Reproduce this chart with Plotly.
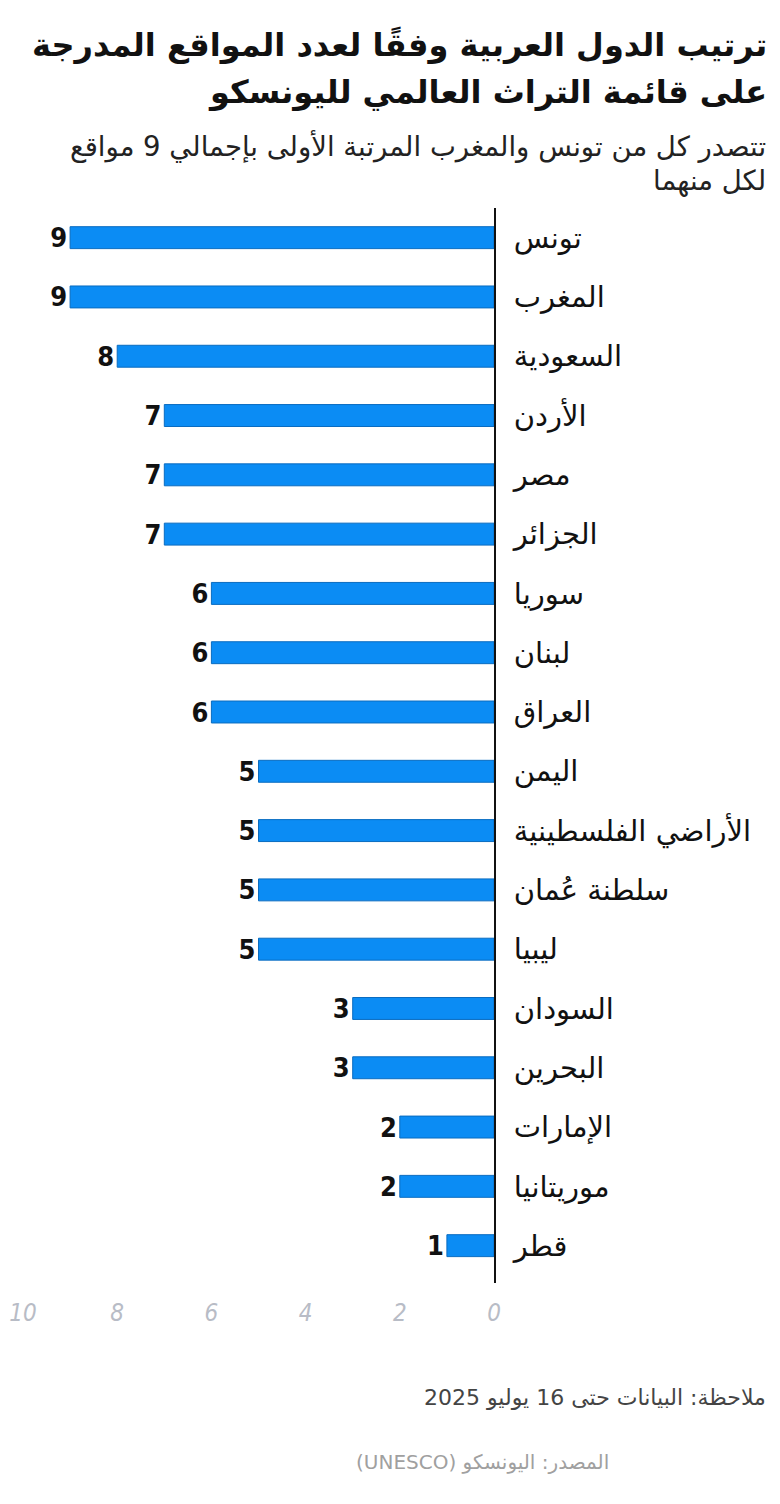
import plotly.graph_objects as go

countries = ["تونس", "المغرب", "السعودية", "الأردن", "مصر", "الجزائر", "سوريا", "لبنان",
             "العراق", "اليمن", "الأراضي الفلسطينية", "سلطنة عُمان", "ليبيا", "السودان",
             "البحرين", "الإمارات", "موريتانيا", "قطر"]
sites = [9, 9, 8, 7, 7, 7, 6, 6, 6, 5, 5, 5, 5, 3, 3, 2, 2, 1]
x_ticks = [0, 2, 4, 6, 8, 10]

title_lines = ["ترتيب الدول العربية وفقًا لعدد المواقع المدرجة", "على قائمة التراث العالمي لليونسكو"]
subtitle_lines = ["تتصدر كل من تونس والمغرب المرتبة الأولى بإجمالي 9 مواقع", "لكل منهما"]
note = "ملاحظة: البيانات حتى 16 يوليو 2025"
source = "المصدر: اليونسكو (UNESCO)"

OFF = 8  # page body offset
W, H = 780 - OFF, 1504 - OFF
L, R, T = 23 - OFF, 780 - 494, 208 - OFF
B = H - (1283 - OFF)
pw = W - L - R
ph = H - T - B

def px(x):
    return (x - OFF - L) / pw

def py(y):
    return (H - B - (y - OFF)) / ph

def rtl(s):
    return "\u202b" + s + "\u202c"

AR = "DejaVu Sans, Noto Sans Arabic, sans-serif"
NUM = "DejaVu Sans Condensed, Roboto, sans-serif"

fig = go.Figure(go.Bar(
    x=sites, y=countries, orientation="h",
    marker=dict(color="#0b8cf4", line=dict(color="#0a6cc0", width=1)),
    width=0.37,
    text=[str(v) for v in sites], textposition="outside", constraintext="none",
    textfont=dict(family=NUM, size=27, color="#111", weight="bold"),
    cliponaxis=False, hoverinfo="skip",
))

annotations = []
for i, line in enumerate(title_lines):
    annotations.append(dict(text=rtl(line), x=px(769), y=py(45 + 47 * i), xref="paper", yref="paper",
                            xanchor="right", yanchor="middle", showarrow=False,
                            font=dict(family=AR, size=32, color="#111", weight="bold")))
for i, line in enumerate(subtitle_lines):
    annotations.append(dict(text=rtl(line), x=px(768), y=py(146 + 34 * i), xref="paper", yref="paper",
                            xanchor="right", yanchor="middle", showarrow=False,
                            font=dict(family=AR, size=27.5, color="#222")))
annotations += [
    dict(text=rtl(note), x=px(768), y=py(1397), xref="paper", yref="paper",
         xanchor="right", yanchor="middle", showarrow=False,
         font=dict(family=AR, size=22, color="#444")),
    dict(text=rtl(source), x=px(611), y=py(1462), xref="paper", yref="paper",
         xanchor="right", yanchor="middle", showarrow=False,
         font=dict(family=AR, size=20, color="#a0a0a0")),
]

fig.update_layout(
    width=W, height=H, margin=dict(l=L, r=R, t=T, b=B),
    paper_bgcolor="white", plot_bgcolor="white",
    showlegend=False, annotations=annotations,
    xaxis=dict(range=[10, 0], tickvals=x_ticks, showgrid=False, zeroline=False,
               showline=False, ticks="", ticklabelstandoff=13, automargin=False,
               tickfont=dict(family=NUM, size=24, color="#b8bcc6", style="italic")),
    yaxis=dict(categoryorder="array", categoryarray=countries, range=[17.63, -0.5],
               side="right", showline=True, linecolor="#111", linewidth=2,
               showgrid=False, zeroline=False, ticks="", ticklabelstandoff=12,
               automargin=False,
               tickfont=dict(family=AR, size=29, color="#111")),
)

fig.write_html("out.html")
